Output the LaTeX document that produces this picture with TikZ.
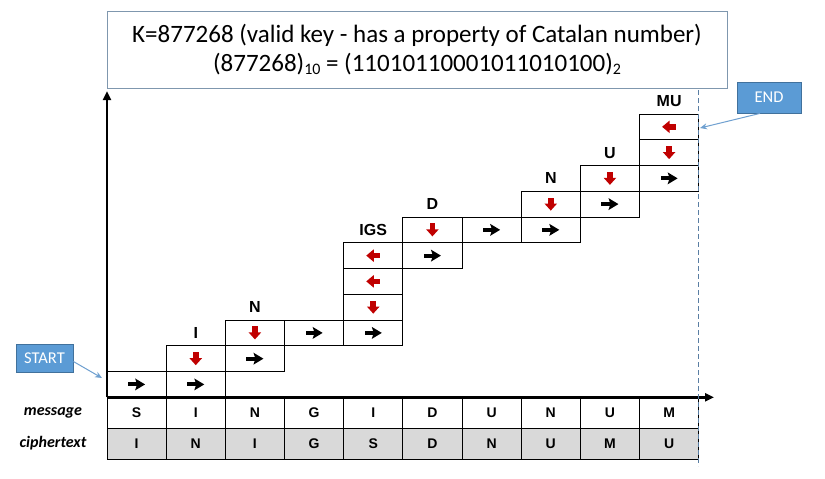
\documentclass[tikz,border=0pt]{standalone}
\usepackage{fontspec}
\setmainfont{Carlito}
\newfontfamily\arialfont{Liberation Sans}
\usetikzlibrary{arrows.meta,calc}
\definecolor{boxblue}{HTML}{5B9BD5}
\definecolor{boxedge}{HTML}{41719C}
\definecolor{arrred}{HTML}{C00000}
\definecolor{cgray}{HTML}{D9D9D9}
\definecolor{dashblue}{HTML}{5A7EA3}
\definecolor{titleedge}{HTML}{7F97AE}
\definecolor{tagline}{HTML}{6FA0D0}
\tikzset{
  cell/.style={draw, line width=0.8pt, minimum width=59.17pt, minimum height=25.76pt, inner sep=0pt, outer sep=0pt},
  tcell/.style={draw, line width=0.8pt, minimum width=59.17pt, minimum height=30.8pt, inner sep=0pt, outer sep=0pt, font=\arialfont\bfseries\fontsize{14}{14}\selectfont},
  ccell/.style={tcell, fill=cgray},
  toplabel/.style={inner sep=0pt, font=\arialfont\bfseries\fontsize{16}{16}\selectfont},
  rowlabel/.style={inner sep=0pt, font=\bfseries\itshape\fontsize{16}{16}\selectfont},
  tag/.style={draw=boxedge, line width=0.8pt, fill=boxblue, text=white, inner sep=0pt, font=\fontsize{16.5}{16.5}\selectfont},
  tagarrow/.style={draw=tagline, line width=1pt, -{Stealth[length=7pt,width=6pt]}},
  axis/.style={line width=2.5pt, -{Triangle[length=9pt,width=8pt]}},
  rarr/.pic={\fill (-8.5,-2) rectangle (1,2);
             \fill (-1.5,-6) -- (8.5,0) -- (-1.5,6) -- (0.5,0) -- cycle;},
  darr/.pic={\fill[arrred] (-2.8,-6.5) rectangle (2.8,0);
             \fill[arrred] (-6.3,-0.5) -- (6.3,-0.5) -- (0,6.5) -- cycle;},
  larr/.pic={\fill[arrred] (0,-2.8) rectangle (7,2.8);
             \fill[arrred] (0.5,-6.3) -- (0.5,6.3) -- (-7,0) -- cycle;},
}
\begin{document}
\begin{tikzpicture}[x=1pt,y=-1pt]
\useasboundingbox (0,0) rectangle (825,479);
\fill[white] (0,0) rectangle (825,479);

% title box
\node[draw=titleedge, line width=0.9pt, minimum width=620pt, minimum height=77pt, inner sep=0pt,
      align=center, font=\fontsize{25}{28.5}\selectfont] (title) at (417,49.5)
  {K=877268 (valid key - has a property of Catalan number)\\
   (877268)\raisebox{-3.5pt}{\fontsize{16}{16}\selectfont 10} = (11010110001011010100)\raisebox{-3.5pt}{\fontsize{16}{16}\selectfont 2}};

% path cells
\foreach \c/\r in {0/0,1/0,2/1,3/2,4/2,5/5,6/6,7/6,8/7,9/8}{
  \node[cell] (k\c-\r) at ({107+59.17*(\c+0.5)},{397.3-25.76*(\r+0.5)}) {};
  \pic at (k\c-\r) {rarr};
}
\foreach \c/\r in {1/1,2/2,4/3,5/6,7/7,8/8,9/9}{
  \node[cell] (k\c-\r) at ({107+59.17*(\c+0.5)},{397.3-25.76*(\r+0.5)}) {};
  \pic at (k\c-\r) {darr};
}
\foreach \c/\r in {4/4,4/5,9/10}{
  \node[cell] (k\c-\r) at ({107+59.17*(\c+0.5)},{397.3-25.76*(\r+0.5)}) {};
  \pic at (k\c-\r) {larr};
}

% labels above columns
\foreach \c/\r/\t in {1/2/I,2/3/N,4/6/IGS,5/7/D,7/8/N,8/9/U,9/11/MU}{
  \node[toplabel] (lab\c) at ({107+59.17*(\c+0.5)},{397.3-25.76*(\r+0.5)}) {\t};
}

% bottom table
\foreach \t [count=\i from 0] in {S,I,N,G,I,D,U,N,U,M}{
  \node[tcell] (m\i) at ({107+59.17*(\i+0.5)},412.7) {\t};
}
\foreach \t [count=\i from 0] in {I,N,I,G,S,D,N,U,M,U}{
  \node[ccell] (x\i) at ({107+59.17*(\i+0.5)},443.5) {\t};
}
\node[rowlabel] (msg) at (53,412.7) {message};
\node[rowlabel] (cip) at (53,443.5) {ciphertext};

% axes
\coordinate (o) at (107,397.3);
\coordinate (ytop) at (107,91);
\coordinate (xend) at (714,397.3);
\draw[axis] (o) -- (ytop);
\draw[axis] (o) -- (xend);

% dashed end line
\coordinate (dtop) at (698.7,90);
\coordinate (dbot) at (698.7,466);
\draw[dashblue, line width=1pt, dash pattern=on 5pt off 3pt] (dtop) -- (dbot);

% START / END tags
\node[tag, minimum width=57pt, minimum height=28pt] (start) at (44.5,358.5) {START};
\coordinate (starttip) at (102,378);
\draw[tagarrow] ($(start.east)+(0,3)$) -- (starttip);
\node[tag, minimum width=64pt, minimum height=31pt] (end) at (769,97.5) {END};
\coordinate (endtip) at (700,128);
\draw[tagarrow] ($(end.south)+(-9,0)$) -- (endtip);
\end{tikzpicture}
\end{document}
